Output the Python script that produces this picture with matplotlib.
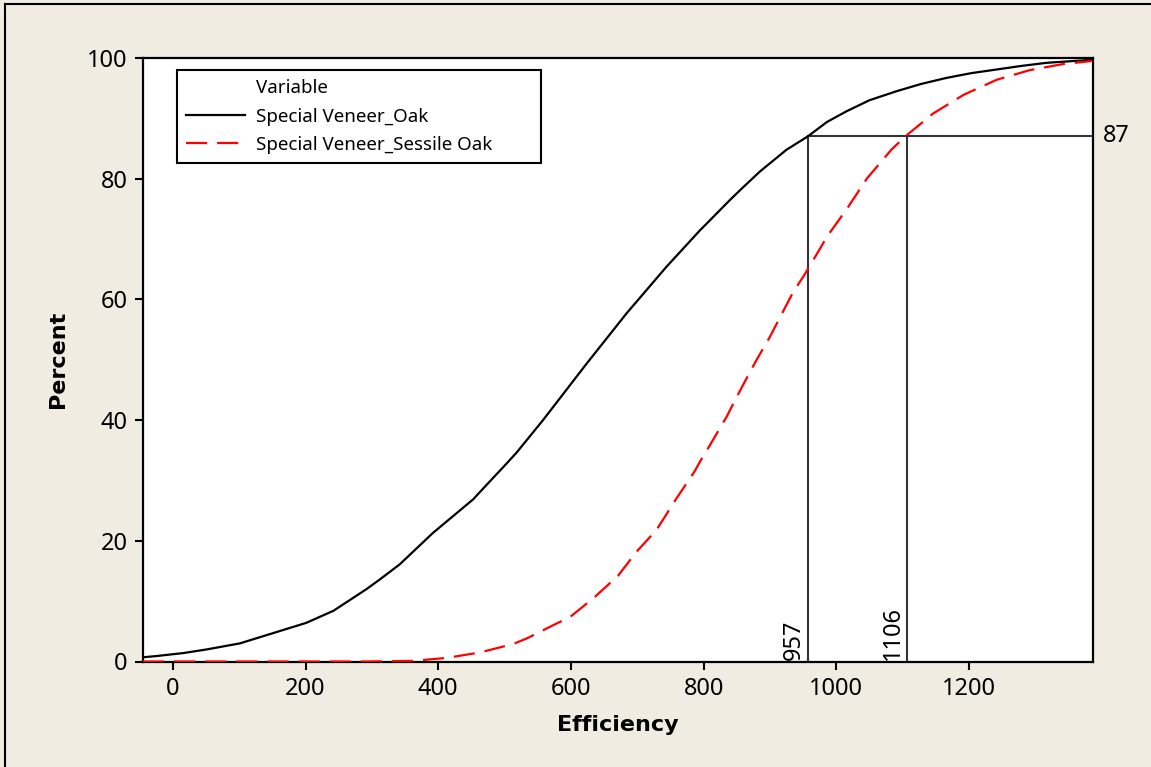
import matplotlib
matplotlib.use("Agg")
import matplotlib.pyplot as plt
from matplotlib.lines import Line2D

# ---- data ----
oak_x = [-45, -25, 16, 51, 101, 151, 201, 242, 292, 312, 342, 392, 453, 463, 503,
         518, 558, 624, 684, 744, 795, 805, 840, 855, 885, 915, 925, 957, 986, 1016,
         1050, 1091, 1128, 1166, 1204, 1242, 1280, 1317, 1385]
oak_y = [0.7, 0.9, 1.4, 2.0, 3.0, 4.7, 6.4, 8.4, 12.0, 13.6, 16.1, 21.3, 26.9, 28.1,
         32.8, 34.6, 40.0, 49.4, 57.7, 65.4, 71.5, 72.6, 76.5, 78.1, 81.2, 83.9, 84.8,
         87.0, 89.4, 91.2, 93.0, 94.5, 95.7, 96.7, 97.5, 98.1, 98.7, 99.2, 99.7]

sess_x = [-45, 292, 362, 413, 463, 513, 533, 573, 599, 634, 671, 699, 729, 759, 787,
          795, 805, 835, 845, 870, 880, 900, 916, 935, 951, 957, 976, 986, 1016, 1046,
          1083, 1104, 1146, 1192, 1242, 1292, 1342, 1385]
sess_y = [0.0, 0.0, 0.1, 0.6, 1.5, 2.9, 3.8, 6.0, 7.4, 10.5, 14.2, 18.2, 21.8, 27.0,
          31.6, 33.2, 35.0, 40.6, 42.8, 48.0, 50.0, 53.8, 57.2, 61.2, 63.9, 65.0, 68.5,
          70.4, 75.0, 80.0, 84.8, 87.0, 90.8, 93.9, 96.4, 98.0, 99.0, 99.5]

ref_pct = 87
ref_x = [957, 1106]
ref_labels = ["957", "1106"]

series_labels = ["Special Veneer_Oak", "Special Veneer_Sessile Oak"]
legend_title = "Variable"
xticks = [0, 200, 400, 600, 800, 1000, 1200]
yticks = [0, 20, 40, 60, 80, 100]

# ---- styling ----
bg = "#F0ECE2"
plt.rcParams['font.family'] = ['Noto Sans', 'DejaVu Sans']

fig = plt.figure(figsize=(11.51, 7.67), dpi=100, facecolor=bg)
ax = fig.add_axes([143/1151, 1-661.5/767, (1093-143)/1151, (661.5-58)/767])
ax.set_facecolor("white")

ax.plot(oak_x, oak_y, color="black", lw=1.6, label=series_labels[0], zorder=3)
ax.plot(sess_x, sess_y, color="#FF0000", lw=1.6, dashes=(9.5, 4.5),
        label=series_labels[1], zorder=3)

xmin, xmax = -45, 1387
ax.set_xlim(xmin, xmax)
ax.set_ylim(0, 100)

refc = "#333333"
ax.plot([ref_x[0], xmax], [ref_pct, ref_pct], color=refc, lw=1.5, zorder=2)
for xv, lab in zip(ref_x, ref_labels):
    ax.plot([xv, xv], [0, ref_pct], color=refc, lw=1.5, zorder=2)
    ax.annotate(lab, xy=(xv, 0), xytext=(-1, 1), textcoords="offset points",
                rotation=90, ha="right", va="bottom", fontsize=17)
ax.annotate(str(ref_pct), xy=(1, ref_pct), xycoords=("axes fraction", "data"),
            xytext=(7, 0), textcoords="offset points", ha="left", va="center",
            fontsize=17)

ax.set_xticks(xticks)
ax.set_yticks(yticks)
ax.tick_params(axis="both", direction="out", length=6, width=1.5, labelsize=17,
               pad=5)
for s in ax.spines.values():
    s.set_linewidth(1.6)

ax.set_xlabel("Efficiency", fontsize=16, fontweight="bold", labelpad=10,
              family="DejaVu Sans")
ax.set_ylabel("Percent", fontsize=16, fontweight="bold", labelpad=14,
              family="DejaVu Sans")

handles = [Line2D([], [], color="none"),
           Line2D([], [], color="black", lw=1.6),
           Line2D([], [], color="#FF0000", lw=1.6, dashes=(9.5, 4.5))]
x0 = (177-143)/950
y1 = 1-(70-58)/603.5
w = (541-177)/950
h = (161-70)/603.5
leg = ax.legend(handles, [legend_title] + series_labels, loc="upper left",
                bbox_to_anchor=(x0, y1 - h, w, h), mode="expand",
                fontsize=13.5, frameon=True, fancybox=False, framealpha=1,
                edgecolor="black", handlelength=3.1, handletextpad=0.64,
                borderpad=0.5, labelspacing=0.55, borderaxespad=0)
leg.get_frame().set_linewidth(1.5)

# outer frame (top and left)
fig.add_artist(Line2D([5/1151, 1], [1-4/767, 1-4/767], color="black", lw=1.5,
                      transform=fig.transFigure))
fig.add_artist(Line2D([5/1151, 5/1151], [0, 1-4/767], color="black", lw=1.5,
                      transform=fig.transFigure))

fig.savefig("out.png", dpi=100, facecolor=bg)
